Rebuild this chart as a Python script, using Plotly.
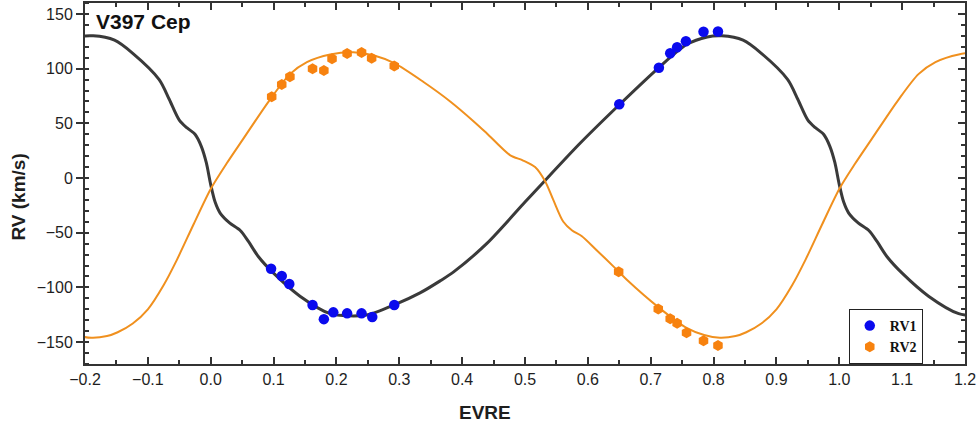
import plotly.graph_objects as go

# ---------------- data ----------------
RV1_PHASE = [0.096, 0.113, 0.125, 0.162, 0.180, 0.195, 0.217, 0.240, 0.257, 0.292,
             0.650, 0.713, 0.731, 0.742, 0.756, 0.784, 0.807]
RV1_VALUE = [-83, -89.6, -96.9, -116, -129, -122.8, -123.7, -123.7, -127, -116,
             67.4, 100.8, 114, 119.5, 125, 133.7, 134]

RV2_PHASE = [0.097, 0.113, 0.126, 0.162, 0.180, 0.193, 0.217, 0.240, 0.256, 0.292,
             0.649, 0.712, 0.731, 0.742, 0.757, 0.784, 0.807]
RV2_VALUE = [74.2, 85.6, 92.5, 100, 98.2, 109, 113.8, 114.8, 109.6, 102.4,
             -85.6, -119.7, -128.6, -132.8, -141.4, -148.7, -153]

# model curves, one orbital cycle (phase 0..1)
MODEL1_PHASE = [0.000, 0.007, 0.015, 0.030, 0.047, 0.060, 0.076, 0.100, 0.142, 0.190,
                0.220, 0.250, 0.292, 0.333, 0.365, 0.386, 0.439, 0.500, 0.529, 0.588,
                0.650, 0.713, 0.757, 0.790, 0.813, 0.847, 0.876, 0.918, 0.934, 0.950,
                0.962, 0.975, 0.985, 0.993]
MODEL1_VALUE = [-6, -22, -32, -41, -48, -58, -72, -87, -108, -124,
                -126, -125, -116, -105, -94, -86, -60, -22, -4, 32,
                67, 101, 122, 129, 130, 126, 114, 90, 72, 53,
                46, 40, 29, 14]

MODEL2_PHASE = [0.000, 0.025, 0.052, 0.094, 0.126, 0.153, 0.190, 0.227, 0.260, 0.292,
                0.338, 0.381, 0.418, 0.439, 0.476, 0.497, 0.516, 0.532, 0.545, 0.561,
                0.575, 0.590, 0.614, 0.641, 0.662, 0.712, 0.757, 0.785, 0.810, 0.835,
                0.852, 0.876, 0.900, 0.925, 0.946, 0.973]
MODEL2_VALUE = [-10, 13, 36, 71.5, 95, 106, 113, 115, 112, 105,
                88, 70, 52, 41, 21, 16, 10, -3, -20, -40,
                -48, -53, -66, -81, -93, -118, -137, -143.5, -146, -144.5,
                -141, -133, -120, -98, -75, -42]

X_RANGE = [-0.2, 1.2]
Y_RANGE = [-170, 160]


def unfold(phases, values, lo=-0.26, hi=1.26):
    """Repeat one read cycle at phase-1 and phase+1 to cover the plotted range."""
    pts = []
    for shift in (-1, 0, 1):
        for p, v in zip(phases, values):
            q = p + shift
            if lo <= q <= hi:
                pts.append((q, v))
    pts.sort()
    return [p for p, _ in pts], [v for _, v in pts]


m1x, m1y = unfold(MODEL1_PHASE, MODEL1_VALUE)
m2x, m2y = unfold(MODEL2_PHASE, MODEL2_VALUE)

BLUE = "#0a0aee"
ORANGE = "#f7820f"
AXIS = "#333333"
SANS = "Liberation Sans, Arial, sans-serif"
TXT = "#1e1e1e"

fig = go.Figure()
fig.add_trace(go.Scatter(x=m1x, y=m1y, mode="lines", showlegend=False, hoverinfo="skip",
                         line=dict(color="#3a3a3a", width=3, shape="spline", smoothing=0.8)))
fig.add_trace(go.Scatter(x=m2x, y=m2y, mode="lines", showlegend=False, hoverinfo="skip",
                         line=dict(color="#f0901e", width=2, shape="spline", smoothing=0.8)))
fig.add_trace(go.Scatter(x=RV1_PHASE, y=RV1_VALUE, mode="markers", name="RV1",
                         marker=dict(color=BLUE, size=10.5, symbol="circle")))
fig.add_trace(go.Scatter(x=RV2_PHASE, y=RV2_VALUE, mode="markers", name="RV2",
                         marker=dict(color=ORANGE, size=11, symbol="hexagon")))
# dummy trace for mirrored top/right axes
fig.add_trace(go.Scatter(x=[None], y=[None], xaxis="x2", yaxis="y2", showlegend=False,
                         hoverinfo="skip", mode="markers"))

common = dict(showgrid=False, zeroline=False, showline=True, linecolor=AXIS, linewidth=2,
              tickcolor=AXIS, tickwidth=1.5)

fig.update_layout(
    width=978, height=432,
    margin=dict(l=85, r=13, t=3, b=68),
    paper_bgcolor="white", plot_bgcolor="white",
    font=dict(family=SANS, color=TXT, size=16),
    xaxis=dict(range=X_RANGE, dtick=0.1, tick0=0, tickformat=".1f", ticks="inside", ticklen=7,
               minor=dict(ticks="inside", dtick=0.05, ticklen=4, tickcolor=AXIS, tickwidth=1.5),
               tickfont=dict(size=16, family=SANS, color=TXT),
               **common),
    yaxis=dict(range=Y_RANGE, dtick=50, tick0=0, ticks="outside", ticklen=7,
               minor=dict(ticks="inside", dtick=10, ticklen=4, tickcolor=AXIS, tickwidth=1.5),
               tickfont=dict(size=16, family=SANS, color=TXT),
               **common),
    xaxis2=dict(range=X_RANGE, overlaying="x", side="top", dtick=0.1, tick0=0, ticks="inside",
                ticklen=7, showticklabels=False,
                minor=dict(ticks="inside", dtick=0.05, ticklen=4, tickcolor=AXIS, tickwidth=1.5),
                **common),
    yaxis2=dict(range=Y_RANGE, overlaying="y", side="right", dtick=50, tick0=0, ticks="inside",
                ticklen=7, showticklabels=False,
                minor=dict(ticks="inside", dtick=10, ticklen=4, tickcolor=AXIS, tickwidth=1.5),
                **common),
    legend=dict(x=0.952, y=0.0, xanchor="right", yanchor="bottom",
                bgcolor="white", bordercolor="#222222", borderwidth=1,
                font=dict(family="Liberation Serif, Times New Roman, serif", size=14,
                          weight="bold", color="#111111"),
                itemwidth=30, tracegroupgap=0),
    annotations=[
        dict(text="V397 Cep", x=0.01, y=0.985, xref="paper", yref="paper",
             xanchor="left", yanchor="top", showarrow=False,
             font=dict(size=21, family=SANS, weight="bold", color="#111111")),
        dict(text="RV (km/s)", x=-0.075, y=0.461, xref="paper", yref="paper",
             xanchor="center", yanchor="middle", textangle=-90, showarrow=False,
             font=dict(size=19, family=SANS, weight="bold", color=TXT)),
        dict(text="EVRE", x=0.4545, y=-0.133, xref="paper", yref="paper",
             xanchor="center", yanchor="middle", showarrow=False,
             font=dict(size=19, family=SANS, weight="bold", color=TXT)),
    ],
    showlegend=True,
)

fig.write_html("out.html", config={"displayModeBar": False},
               post_script="document.body.style.margin='0px';document.body.style.padding='0px';"
                           "document.documentElement.style.overflow='hidden';")
